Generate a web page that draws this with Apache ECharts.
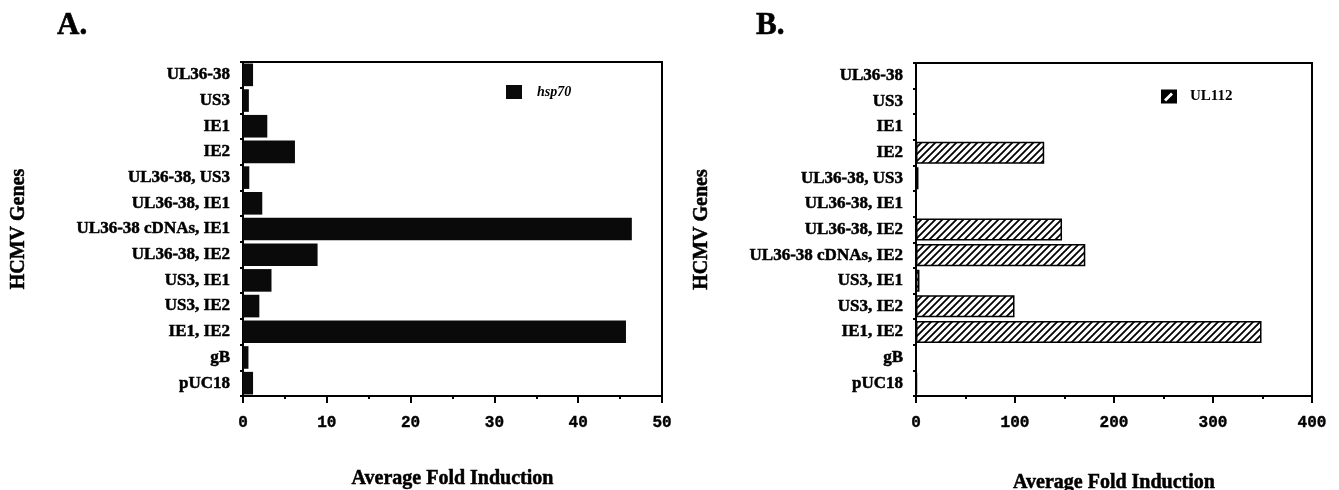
<!DOCTYPE html>
<html>
<head>
<meta charset="utf-8">
<script src="https://cdn.jsdelivr.net/npm/echarts@6/dist/echarts.min.js"></script>
<style>
html,body{margin:0;padding:0;background:#fff;}
#c{width:1339px;height:490px;}
</style>
</head>
<body>
<div id="c"></div>
<script>
var categoriesA = ["UL36-38","US3","IE1","IE2","UL36-38, US3","UL36-38, IE1","UL36-38 cDNAs, IE1","UL36-38, IE2","US3, IE1","US3, IE2","IE1, IE2","gB","pUC18"];
var valuesA = [1.2,0.7,2.9,6.2,0.75,2.3,46.4,8.9,3.4,1.95,45.7,0.65,1.2];
var categoriesB = ["UL36-38","US3","IE1","IE2","UL36-38, US3","UL36-38, IE1","UL36-38, IE2","UL36-38 cDNAs, IE2","US3, IE1","US3, IE2","IE1, IE2","gB","pUC18"];
var valuesB = [0,0.5,0.5,129.5,2.5,0.5,147.5,171,3.5,99.5,349,0,1];
var ticksA = [0,10,20,30,40,50];
var ticksB = [0,100,200,300,400];

var serif = '"Liberation Serif","DejaVu Serif",serif';
var mono = '"Liberation Mono","DejaVu Sans Mono",monospace';

function hatch(){
  var s = 7, cv = document.createElement('canvas');
  cv.width = s; cv.height = s;
  var g = cv.getContext('2d');
  g.fillStyle = '#fff'; g.fillRect(0,0,s,s);
  g.strokeStyle = '#000'; g.lineWidth = 1.8;
  g.beginPath();
  g.moveTo(-1, s+1); g.lineTo(s+1, -1);
  g.moveTo(-1, 1); g.lineTo(1, -1);
  g.moveTo(s-1, s+1); g.lineTo(s+1, s-1);
  g.stroke();
  return {image: cv, repeat: 'repeat'};
}
var hatchPat = hatch();
var slashIcon = 'path://M0 0 L15 0 L11 4 L10 3 L3 10 L4 11 L1 14 L0 14 Z M15 0 L16 0 L16 14 L1 14 L4 11 L5 12 L12 5 L11 4 Z';

function xAxis(gi, max, interval, name, gap){
  return {
    gridIndex: gi, type: 'value', min: 0, max: max, interval: interval,
    name: name, nameLocation: 'middle', nameGap: gap,
    nameTextStyle: {fontFamily: serif, fontWeight: 'bold', fontSize: 20, color: '#000', textBorderColor: '#000', textBorderWidth: 0.5},
    axisLine: {show: true, lineStyle: {color: '#000', width: 2}},
    axisTick: {show: true, length: 7, lineStyle: {color: '#000', width: 2}},
    minorTick: {show: true, splitNumber: 2, length: 3, lineStyle: {color: '#000', width: 2}},
    splitLine: {show: false},
    axisLabel: {fontFamily: mono, fontWeight: 'bold', fontSize: 16, color: '#000', margin: 19, textBorderColor: '#000', textBorderWidth: 0.4}
  };
}
function yAxis(gi, cats, gap){
  return {
    gridIndex: gi, type: 'category', data: cats, inverse: true,
    name: 'HCMV Genes', nameLocation: 'middle', nameGap: gap, nameRotate: 90,
    nameTextStyle: {fontFamily: serif, fontWeight: 'bold', fontSize: 20, color: '#000', textBorderColor: '#000', textBorderWidth: 0.5},
    axisLine: {show: true, lineStyle: {color: '#000', width: 2}},
    axisTick: {show: true, length: 3, lineStyle: {color: '#000', width: 2}},
    axisLabel: {fontFamily: serif, fontWeight: 'bold', fontSize: 17, color: '#000', margin: 13, textBorderColor: '#000', textBorderWidth: 0.5}
  };
}

var chart = echarts.init(document.getElementById('c'), null, {renderer: 'canvas'});
chart.setOption({
  backgroundColor: '#fff',
  animation: false,
  title: [
    {text: 'A.', left: 52, top: 5, textStyle: {fontFamily: serif, fontWeight: 'bold', fontSize: 31, color: '#000', textBorderColor: '#000', textBorderWidth: 0.6}},
    {text: 'B.', left: 751, top: 5, textStyle: {fontFamily: serif, fontWeight: 'bold', fontSize: 31, color: '#000', textBorderColor: '#000', textBorderWidth: 0.6}}
  ],
  legend: [
    {data: ['hsp70'], left: 501, top: 80, itemWidth: 16, itemHeight: 14, icon: 'rect',
     textStyle: {fontFamily: serif, fontWeight: 'bold', fontStyle: 'italic', fontSize: 14, color: '#000', padding: [0, 0, 0, 10]}},
    {data: [{name: 'UL112', icon: slashIcon, itemStyle: {color: '#000', borderWidth: 0}}], left: 1156, top: 84, itemWidth: 16, itemHeight: 14,
     textStyle: {fontFamily: serif, fontWeight: 'bold', fontSize: 15, color: '#000', padding: [0, 0, 0, 8]}}
  ],
  grid: [
    {left: 243, right: 677, top: 62, bottom: 94, outerBoundsMode: 'none', show: true, borderColor: '#000', borderWidth: 2, backgroundColor: '#fff'},
    {left: 916, right: 27, top: 63, bottom: 94, outerBoundsMode: 'none', show: true, borderColor: '#000', borderWidth: 2, backgroundColor: '#fff'}
  ],
  xAxis: [xAxis(0, 50, 10, 'Average Fold Induction', 73), xAxis(1, 400, 100, 'Average Fold Induction', 77)],
  yAxis: [yAxis(0, categoriesA, 214), yAxis(1, categoriesB, 204)],
  series: [
    {name: 'hsp70', type: 'bar', xAxisIndex: 0, yAxisIndex: 0, data: valuesA, barCategoryGap: '12%',
     itemStyle: {color: '#0a0a0a'}},
    {name: 'UL112', type: 'bar', xAxisIndex: 1, yAxisIndex: 1, data: valuesB, barCategoryGap: '14%',
     itemStyle: {color: hatchPat, borderColor: '#000', borderWidth: 1.5}}
  ]
});
</script>
</body>
</html>
